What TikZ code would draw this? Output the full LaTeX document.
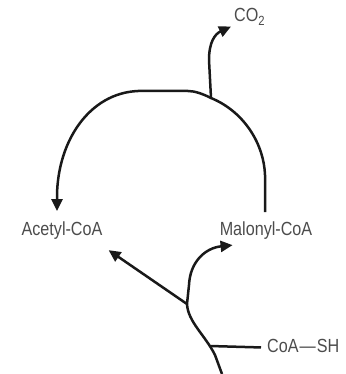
\documentclass[tikz,border=0pt]{standalone}
\usepackage{fontspec}
\setmainfont{Liberation Sans}
\newfontfamily\lblfont[FakeStretch=0.85]{Liberation Sans}
\usetikzlibrary{arrows.meta,calc}
\begin{document}
\begin{tikzpicture}[x=1pt,y=-1pt,
  line/.style={line width=2.5pt,draw=black!90},
  arr/.style={line,-{Triangle[length=12pt,width=11pt]}},
  lbl/.style={inner sep=1pt,text=black!70,font=\lblfont\fontsize{19}{22}\selectfont}]
\useasboundingbox (0,0) rectangle (345,374);
% labels
\node[lbl,anchor=base] (acetyl) at (62,235) {Acetyl-CoA};
\node[lbl,anchor=base] (malonyl) at (266,235) {Malonyl-CoA};
\node[lbl,anchor=base west] (co2) at (233,22) {CO\textsubscript{2}};
\node[lbl,anchor=base west] (coash) at (266,352) {CoA\kern1pt—\kern1ptSH};
% branch points
\coordinate (topbr) at (211,98);
\coordinate (lowbr) at (187,304);
\coordinate (coabr) at (210,346);
\coordinate (bottom) at (222,374);
% top cycle arc: Malonyl-CoA -> Acetyl-CoA
\draw[arr] ($(malonyl.north)+(-1,-8)$) -- (265,175)
  .. controls (264,145) and (245,112) .. (topbr)
  .. controls (203,94) and (195,91) .. (188,91) -- (138,91)
  .. controls (90,93) and (58,140) .. (57,195)
  -- ($(acetyl.north)+(-5,-9)$);
% CO2 release
\draw[arr] (topbr) -- (209,60) .. controls (209,42) and (215,34) .. ($(co2.south west)+(-2,0)$);
% lower input curve to Malonyl-CoA
\draw[arr] (bottom) -- (215,355)
  .. controls (205,335) and (188,322) .. (lowbr) -- (189,285)
  .. controls (190,262) and (205,248) .. ($(malonyl.south west)+(14,5)$);
% branch to Acetyl-CoA
\draw[arr] (lowbr) -- ($(acetyl.south east)+(5,10)$);
% CoA-SH
\draw[line] (coabr) -- ([xshift=-5pt,yshift=-2pt]coash.west);
\end{tikzpicture}
\end{document}
